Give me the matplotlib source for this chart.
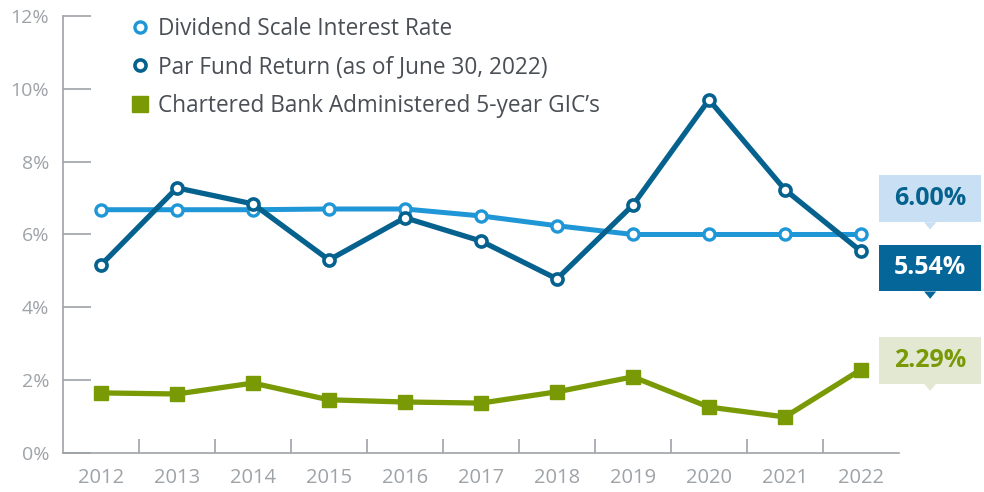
import numpy as np
import matplotlib.pyplot as plt
from matplotlib.lines import Line2D
from matplotlib.patches import Rectangle, Polygon

plt.rcParams['font.family'] = ['Open Sans', 'DejaVu Sans']

years = ['2012', '2013', '2014', '2015', '2016', '2017', '2018', '2019', '2020', '2021', '2022']
dividend = [6.68, 6.68, 6.68, 6.70, 6.70, 6.51, 6.24, 6.00, 6.00, 6.00, 6.00]
par_fund = [5.16, 7.28, 6.84, 5.30, 6.46, 5.82, 4.78, 6.81, 9.70, 7.23, 5.54]
gic = [1.65, 1.62, 1.92, 1.46, 1.40, 1.37, 1.68, 2.09, 1.26, 0.99, 2.29]

c_div = '#1f96d6'
c_par = '#05628f'
c_gic = '#799a05'
grey = '#9ea3a8'
txt = '#4a4f55'

fig = plt.figure(figsize=(9.84, 4.92), dpi=100)
ax = fig.add_axes([0.064, 0.0793, 0.8496, 0.8882])
x = np.arange(len(years))

ax.plot(x, dividend, color=c_div, lw=3.6, marker='o', ms=8, mfc='white', mec=c_div, mew=2.4, zorder=3)
ax.plot(x, par_fund, color=c_par, lw=3.8, marker='o', ms=8, mfc='white', mec=c_par, mew=2.6, zorder=4)
ax.plot(x, gic, color=c_gic, lw=3.8, marker='s', ms=10, zorder=3)

ax.set_xlim(-0.5, len(years) - 0.5)
ax.set_ylim(0, 12)
for s in ['top', 'right']:
    ax.spines[s].set_visible(False)
for s in ['left', 'bottom']:
    ax.spines[s].set_color(grey)
    ax.spines[s].set_linewidth(1.2)

ax.set_yticks(np.arange(0, 13, 2))
ax.set_yticklabels([f'{v}%' for v in range(0, 13, 2)])
ax.tick_params(axis='y', direction='in', length=20, width=1.2, color=grey,
               labelcolor=grey, labelsize=14, pad=10)
ax.set_xticks(x)
ax.set_xticklabels(years)
ax.set_xticks(np.arange(0.5, len(years) - 0.5), minor=True)
ax.tick_params(axis='x', which='major', length=0, labelcolor=grey, labelsize=14.5, pad=11)
ax.tick_params(axis='x', which='minor', direction='in', length=10, width=1.2, color=grey)

# callouts at the last point
callouts = [(dividend[-1], 6.98, '#c9e0f4', c_par),
            (par_fund[-1], 5.08, '#05669a', 'white'),
            (gic[-1], 2.55, '#e3e8d2', c_gic)]
bw, bh = 1.34, 1.29
for val, yc, bg, fg in callouts:
    xc = 10.91
    ax.add_patch(Rectangle((xc - bw / 2, yc - bh / 2), bw, bh, facecolor=bg,
                           edgecolor='none', clip_on=False, zorder=5))
    ax.add_patch(Polygon([(xc - 0.08, yc - bh / 2), (xc + 0.08, yc - bh / 2), (xc, yc - bh / 2 - 0.2)],
                         closed=True, facecolor=bg, edgecolor='none', clip_on=False, zorder=5))
    ax.text(xc, yc, f'{val:.2f}%', ha='center', va='center', fontsize=18,
            fontweight='bold', color=fg, zorder=6)

handles = [Line2D([], [], ls='none', marker='o', ms=8, mfc='white', mec=c_div, mew=2.4),
           Line2D([], [], ls='none', marker='o', ms=8, mfc='white', mec=c_par, mew=2.6),
           Line2D([], [], ls='none', marker='s', ms=11, color=c_gic)]
labels = ['Dividend Scale Interest Rate', 'Par Fund Return (as of June 30, 2022)',
          'Chartered Bank Administered 5-year GIC\u2019s']
ax.legend(handles, labels, loc='upper left', bbox_to_anchor=(0.058, 1.045), frameon=False,
          fontsize=16.3, handlelength=0.75, handletextpad=0.4, labelspacing=0.64,
          labelcolor=txt)

fig.savefig('out.png', dpi=100)
